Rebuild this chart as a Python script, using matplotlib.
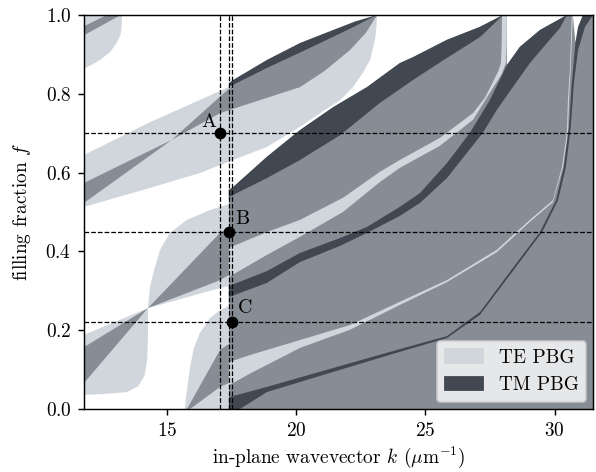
import matplotlib.pyplot as plt
from matplotlib.patches import Patch

plt.rcParams['font.family'] = 'serif'
plt.rcParams['font.serif'] = ['cmr10']
plt.rcParams['mathtext.fontset'] = 'cm'
plt.rcParams['axes.formatter.use_mathtext'] = True
plt.rcParams['font.size'] = 10.7

TE_COLOR = '#d0d6dc'    # TE gap only
TM_COLOR = '#414851'    # TM gap only
BOTH_COLOR = '#878d94'  # both gaps

# --- gap regions: wavevector k (1/um) vs filling fraction f ---
# big region right of k ~ 17.4 (both gaps)
both_main_k = [17.40, 31.80, 31.80, 31.09, 30.80, 30.70, 30.47, 29.43, 28.65, 28.15, 28.15, 28.00,
               27.11, 25.83, 24.52, 24.01, 22.74, 21.43, 20.15, 18.87, 17.56, 17.40]
both_main_f = [0.000, 0.000, 1.000, 1.000, 0.930, 1.000, 1.000, 0.962, 0.919, 0.873, 1.000, 1.000,
               0.970, 0.937, 0.893, 0.878, 0.817, 0.766, 0.708, 0.640, 0.563, 0.556]

# top-left band
te_a_k = [11.50, 13.26, 13.26, 13.24, 13.20, 13.06, 12.81, 12.42, 12.10, 11.84, 11.50]
te_a_f = [1.020, 1.020, 0.980, 0.962, 0.948, 0.929, 0.906, 0.886, 0.874, 0.865, 0.855]
both_a_k = [11.50, 13.22, 12.68, 11.50]
both_a_f = [0.938, 1.000, 1.000, 0.962]

# upper band
te_b_k = [11.50, 14.35, 16.98, 17.56, 18.87, 20.15, 21.43, 23.13,
          23.10, 23.05, 22.86, 22.58, 22.20, 21.70, 20.95, 20.15, 18.87, 17.56, 16.28, 14.35, 11.80, 11.50]
te_b_f = [0.635, 0.728, 0.805, 0.822, 0.865, 0.904, 0.944, 1.000,
          0.965, 0.937, 0.886, 0.853, 0.817, 0.784, 0.752, 0.716, 0.665, 0.632, 0.599, 0.561, 0.513, 0.505]
both_b_k = [11.50, 15.19, 16.28, 17.06, 17.56, 18.87, 20.15, 21.43, 23.13,
            22.70, 22.08, 21.10, 20.15, 18.60, 17.06, 15.19, 11.50]
both_b_f = [0.564, 0.683, 0.747, 0.793, 0.822, 0.865, 0.904, 0.944, 1.000,
            0.955, 0.911, 0.858, 0.817, 0.784, 0.751, 0.683, 0.509]
tm_b_k = [17.40, 17.56, 18.87, 20.15, 21.43, 22.30, 23.13, 22.30, 21.43, 20.15, 18.87, 17.56, 17.40]
tm_b_f = [0.827, 0.835, 0.886, 0.929, 0.962, 0.984, 1.000, 0.972, 0.944, 0.904, 0.865, 0.822, 0.818]

# lower-left band, before and after its pinch point
te_c1_k = [11.50, 14.27, 14.27, 14.24, 14.14, 13.90, 13.46, 12.60, 11.84, 11.50]
te_c1_f = [0.180, 0.256, 0.175, 0.124, 0.085, 0.058, 0.043, 0.038, 0.036, 0.034]
both_c1_k = [11.50, 14.27, 11.50]
both_c1_f = [0.145, 0.256, 0.043]
te_c2_k = [14.27, 14.35, 14.54, 14.74, 15.12, 15.78, 16.67, 17.06, 17.40, 17.40, 17.06, 14.27]
te_c2_f = [0.256, 0.310, 0.360, 0.404, 0.447, 0.480, 0.505, 0.513, 0.520, 0.312, 0.307, 0.256]
both_c2_k = [14.27, 17.06, 17.40, 17.40, 17.06, 14.27]
both_c2_f = [0.256, 0.447, 0.462, 0.340, 0.327, 0.256]

# band rising from the bottom near k ~ 15.7
te_d_k = [15.70, 15.74, 15.78, 15.90, 16.05, 16.28, 16.67, 17.06, 17.40, 17.40]
te_d_f = [0.000, 0.030, 0.048, 0.107, 0.155, 0.193, 0.231, 0.251, 0.261, 0.000]
both_d_k = [15.78, 17.06, 17.40, 17.40, 17.06, 15.90]
both_d_f = [0.000, 0.150, 0.165, 0.066, 0.056, 0.000]

# strips inside the right region
tm_c_k = [17.40, 17.56, 18.87, 20.15, 21.43, 22.74, 24.01, 24.52, 25.83, 27.11, 28.00,
          27.88, 27.11, 25.83, 24.52, 23.24, 21.70, 20.15, 18.87, 17.40]
tm_c_f = [0.556, 0.563, 0.640, 0.708, 0.766, 0.817, 0.878, 0.893, 0.937, 0.970, 1.000,
          0.992, 0.944, 0.891, 0.835, 0.777, 0.695, 0.632, 0.586, 0.538]
te_l2_k = [17.40, 18.87, 20.15, 21.81, 23.24, 24.01, 25.56, 26.84, 27.30, 27.61, 27.82, 27.92, 27.95, 27.96,
           28.15, 28.14, 28.11, 27.95, 27.61, 26.84, 25.56, 24.01, 23.24, 21.81, 20.15, 18.87, 17.40]
te_l2_f = [0.409, 0.449, 0.480, 0.536, 0.602, 0.632, 0.688, 0.751, 0.790, 0.830, 0.858, 0.878, 0.930, 1.000,
           1.000, 0.930, 0.878, 0.850, 0.815, 0.734, 0.668, 0.612, 0.576, 0.500, 0.437, 0.391, 0.335]
tm_d2_k = [17.40, 18.87, 20.15, 21.70, 22.74, 24.01, 24.79, 25.83, 26.72, 27.49, 28.15, 28.65, 29.43, 30.47,
           30.20, 29.70, 29.04, 28.38, 27.76, 27.22, 25.83, 24.79, 24.01, 22.74, 21.70, 20.15, 18.87, 17.40]
tm_d2_f = [0.312, 0.350, 0.396, 0.434, 0.462, 0.513, 0.548, 0.624, 0.701, 0.784, 0.873, 0.919, 0.962, 1.000,
           0.967, 0.929, 0.878, 0.817, 0.759, 0.701, 0.586, 0.523, 0.490, 0.447, 0.414, 0.373, 0.320, 0.284]
te_l1_k = [17.40, 18.22, 20.15, 22.08, 24.01, 25.83, 27.76, 29.04, 29.93, 30.28, 30.47, 30.51, 30.59, 30.66,
           30.70, 30.62, 30.55, 30.51, 30.32, 29.93, 29.04, 27.76, 25.83, 24.01, 22.08, 20.15, 18.22, 17.40]
te_l1_f = [0.119, 0.137, 0.175, 0.213, 0.272, 0.327, 0.404, 0.480, 0.530, 0.614, 0.701, 0.784, 0.868, 1.000,
           1.000, 0.868, 0.784, 0.701, 0.614, 0.525, 0.475, 0.398, 0.322, 0.264, 0.201, 0.155, 0.090, 0.060]
tm_d1_k = [17.40, 18.87, 21.43, 24.01, 25.83, 27.11, 28.38, 29.43, 30.05, 30.35, 30.55, 30.66, 30.80, 30.90, 31.09,
           31.48, 31.17, 30.90, 30.74, 30.62, 30.43, 30.13, 29.51, 28.38, 27.11, 25.83, 24.01, 21.43, 18.87, 17.83, 17.40]
tm_d1_f = [0.030, 0.056, 0.104, 0.152, 0.185, 0.246, 0.358, 0.449, 0.530, 0.614, 0.716, 0.827, 0.930, 0.970, 1.000,
           1.000, 0.970, 0.911, 0.827, 0.716, 0.614, 0.530, 0.449, 0.350, 0.239, 0.180, 0.145, 0.094, 0.043, 0.000, 0.000]

# marked points
point_labels = ['A', 'B', 'C']
point_k = [17.06, 17.42, 17.51]
point_f = [0.70, 0.45, 0.22]
label_offsets = [(-6.5, 6.4), (7.4, 7.2), (7.4, 8.0)]

regions = [
    (both_main_k, both_main_f, BOTH_COLOR),
    (te_a_k, te_a_f, TE_COLOR), (both_a_k, both_a_f, BOTH_COLOR),
    (te_b_k, te_b_f, TE_COLOR), (both_b_k, both_b_f, BOTH_COLOR), (tm_b_k, tm_b_f, TM_COLOR),
    (te_c1_k, te_c1_f, TE_COLOR), (both_c1_k, both_c1_f, BOTH_COLOR),
    (te_c2_k, te_c2_f, TE_COLOR), (both_c2_k, both_c2_f, BOTH_COLOR),
    (te_d_k, te_d_f, TE_COLOR), (both_d_k, both_d_f, BOTH_COLOR),
    (tm_c_k, tm_c_f, TM_COLOR), (te_l2_k, te_l2_f, TE_COLOR), (tm_d2_k, tm_d2_f, TM_COLOR),
    (te_l1_k, te_l1_f, TE_COLOR), (tm_d1_k, tm_d1_f, TM_COLOR),
]

fig = plt.figure(figsize=(596 / 130, 472 / 130), dpi=130)
ax = fig.add_axes([0.141, 0.1335, 0.854, 0.8347])

for k, f, c in regions:
    ax.fill(k, f, color=c, lw=0, zorder=1)

for k in point_k:
    ax.axvline(k, color='k', ls='--', lw=0.7, zorder=3)
for f in point_f:
    ax.axhline(f, color='k', ls='--', lw=0.7, zorder=3)

ax.plot(point_k, point_f, 'o', color='k', ms=5.5, zorder=5)
for lab, k, f, off in zip(point_labels, point_k, point_f, label_offsets):
    ax.annotate(lab, (k, f), xytext=off, textcoords='offset points',
                ha='center', va='center', fontsize=11, zorder=6)

ax.set_xlim(11.8, 31.48)
ax.set_ylim(0, 1)
ax.set_xticks([15, 20, 25, 30])
ax.set_yticks([0.0, 0.2, 0.4, 0.6, 0.8, 1.0])
ax.set_xlabel(r'in-plane wavevector $k$ ($\mu$m$^{-1}$)', labelpad=3)
ax.set_ylabel(r'filling fraction $f$', labelpad=7)

handles = [Patch(color=TE_COLOR, label='TE PBG'), Patch(color=TM_COLOR, label='TM PBG')]
ax.legend(handles=handles, loc='lower right', borderaxespad=0.35)

fig.savefig('out.png', dpi=130)
